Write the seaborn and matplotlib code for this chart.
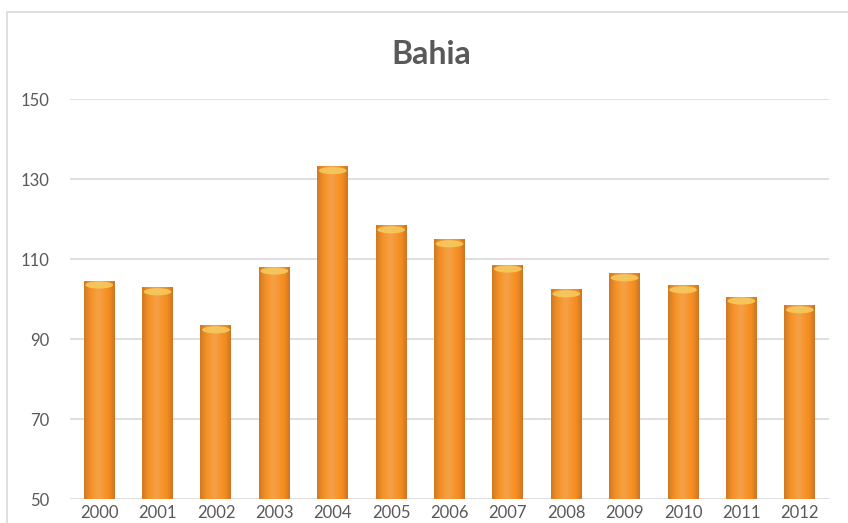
import numpy as np
import pandas as pd
import matplotlib
matplotlib.use("Agg")
import matplotlib.pyplot as plt
import seaborn as sns
from matplotlib.colors import LinearSegmentedColormap
from matplotlib.patches import Ellipse, Rectangle

# Values
years = ["2000", "2001", "2002", "2003", "2004", "2005", "2006",
         "2007", "2008", "2009", "2010", "2011", "2012"]
values = [104.5, 102.8, 93.3, 108.0, 133.1, 118.3, 114.8,
          108.5, 102.3, 106.3, 103.3, 100.5, 98.3]
y_ticks = [50, 70, 90, 110, 130, 150]

GREY_TEXT = "#595959"
GRID = "#D9D9D9"


def add_cylinder_look(ax, bars):
    """Shade each bar like an Excel 3D cylinder: soft dark edges, light stripe, cap on top"""
    shade = LinearSegmentedColormap.from_list(
        "cyl", ["#C9782A", "#F08C22", "#F69A34", "#F4A04A", "#F7952A", "#F28A1F", "#C97424"])
    grad = np.linspace(0, 1, 256).reshape(1, -1)
    y_floor = ax.get_ylim()[0]
    for bar in bars:
        x0, w = bar.get_x(), bar.get_width()
        y_top = bar.get_y() + bar.get_height()
        img = ax.imshow(grad, cmap=shade, aspect="auto", extent=(x0, x0 + w, y_floor, y_top),
                        zorder=bar.get_zorder() + 0.1, interpolation="bicubic")
        # light cap ellipse at the top of the cylinder
        cap = Ellipse((x0 + w / 2, y_top - 1.0), w * 0.9, 1.8, facecolor="#F6CC62",
                      edgecolor="none", alpha=0.85, zorder=bar.get_zorder() + 0.2)
        ax.add_patch(cap)


def main():
    df = pd.DataFrame({"year": years, "value": values})

    fig = plt.figure(figsize=(8.48, 5.23), dpi=100)
    ax = fig.add_axes([70 / 848, 24 / 523, 759 / 848, 400 / 523])

    sns.barplot(data=df, x="year", y="value", color="#F39325", width=0.53,
                saturation=1, ax=ax, zorder=3)
    ax.set_xlim(-0.5, len(years) - 0.5)
    ax.set_ylim(50, 150)
    add_cylinder_look(ax, ax.patches[:len(values)])

    ax.set_yticks(y_ticks)
    ax.set_xlabel("")
    ax.set_ylabel("")

    # Excel-like look: horizontal gridlines only, no spines
    ax.grid(axis="y", color=GRID, linewidth=1.2, zorder=0)
    ax.set_axisbelow(True)
    for side in ax.spines.values():
        side.set_visible(False)
    ax.tick_params(axis="both", length=0, labelsize=12, labelcolor=GREY_TEXT)
    ax.tick_params(axis="y", pad=15)
    ax.tick_params(axis="x", pad=4)
    for lab in ax.get_xticklabels() + ax.get_yticklabels():
        lab.set_family("Lato")

    # Title and chart-area border
    fig.text(431 / 848, (523 - 64) / 523, "Bahia", ha="center", va="baseline",
             fontsize=23, fontweight="bold", color=GREY_TEXT, family="Lato")
    fig.add_artist(Rectangle((7 / 848, -0.2), 2, (523 - 12) / 523 + 0.2,
                             transform=fig.transFigure, fill=False,
                             edgecolor=GRID, linewidth=1.2))

    fig.savefig("out.png", dpi=100)
    plt.close(fig)


if __name__ == "__main__":
    main()
